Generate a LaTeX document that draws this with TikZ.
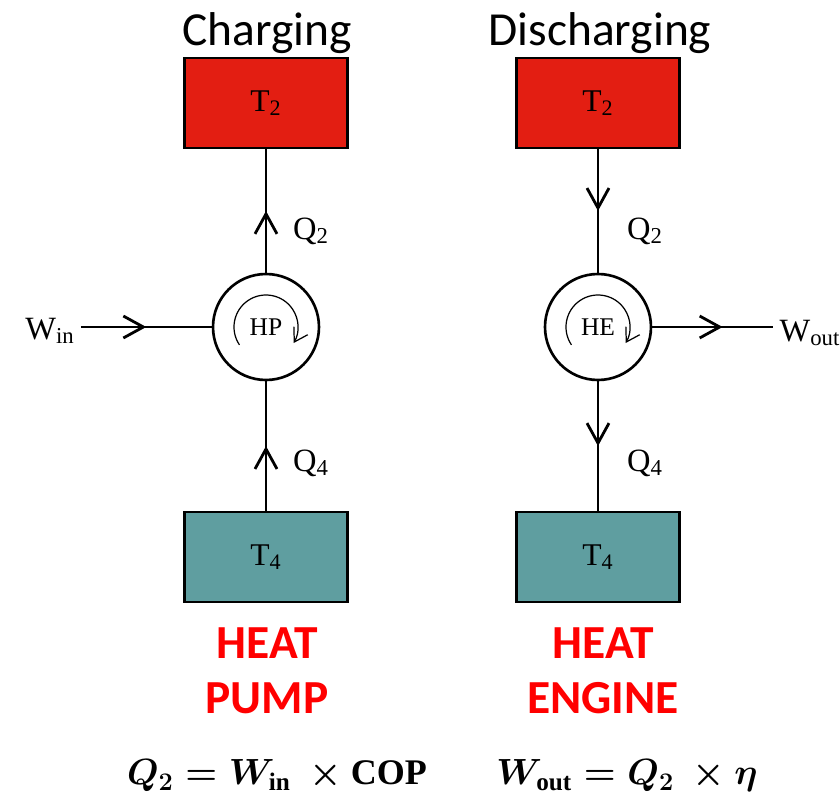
\documentclass[tikz,border=0pt]{standalone}
\usepackage{fontspec}
\setmainfont{Liberation Serif}
\newfontfamily\calibri{Carlito}
\usepackage{amsmath}
\usetikzlibrary{arrows.meta, decorations.markings}

\definecolor{hotred}{RGB}{227,30,18}
\definecolor{coldteal}{RGB}{95,158,160}

\tikzset{
  reservoir/.style={draw=black, line width=1.4pt, minimum width=3.26cm, minimum height=1.8cm, font=\fontsize{18}{21}\selectfont},
  machine/.style={circle, draw, line width=1.5pt, minimum size=2.12cm, inner sep=0pt, font=\fontsize{14.5}{17}\selectfont},
  flow/.style={line width=1.6pt, decoration={markings, mark=at position #1 with {\arrow{Straight Barb[length=4mm, width=4.4mm, line width=1.6pt]}}}, postaction={decorate}},
  flow/.default=0.5,
  title/.style={font=\calibri\fontsize{27}{32}\selectfont, anchor=base},
  kind/.style={font=\calibri\bfseries\fontsize{27}{31}\selectfont, text=red, align=center},
  lbl/.style={font=\fontsize{18.5}{21}\selectfont},
  eqn/.style={font=\fontsize{20.5}{24}\selectfont},
  cycle arrow/.style={line width=0.7pt, -{Straight Barb[length=2.6mm, width=3.2mm]}}
}

\begin{document}
\begin{tikzpicture}[x=0.02cm, y=-0.02cm]
    \useasboundingbox (0,0) rectangle (840,795);

    % charging: heat pump
    \node[title] (chg) at (267,45) {Charging};
    \node[reservoir, fill=hotred] (hotL) at (266,103) {T\textsubscript{2}};
    \node[machine] (hp) at (266,327) {HP};
    \node[reservoir, fill=coldteal] (coldL) at (266,557) {T\textsubscript{4}};
    \node[lbl] (win) at (50,331) {W\textsubscript{in}};
    \node[lbl] (q2L) at (311,231) {Q\textsubscript{2}};
    \node[lbl] (q4L) at (311,463) {Q\textsubscript{4}};

    \draw[flow] (coldL) -- (hp);
    \draw[flow] (hp) -- (hotL);
    \draw[flow] (win.east |- hp) -- (hp);
    \draw[cycle arrow] (hp.center) ++(146:32) arc[start angle=146, end angle=390, radius=32];

    \node[kind] (pumpname) at (267,671) {HEAT\\PUMP};
    \node[eqn] (eqL) at (277,776) {$\boldsymbol{Q_2 = W_{\mathrm{in}}\ \times \mathrm{COP}}$};

    % discharging: heat engine
    \node[title] (dis) at (600,45) {Discharging};
    \node[reservoir, fill=hotred] (hotR) at (598,103) {T\textsubscript{2}};
    \node[machine] (he) at (598,327) {HE};
    \node[reservoir, fill=coldteal] (coldR) at (598,557) {T\textsubscript{4}};
    \node[lbl] (wout) at (810,333) {W\textsubscript{out}};
    \node[lbl] (q2R) at (645,231) {Q\textsubscript{2}};
    \node[lbl] (q4R) at (645,463) {Q\textsubscript{4}};

    \draw[flow] (hotR) -- (he);
    \draw[flow] (he) -- (coldR);
    \draw[flow=0.58] (he) -- (wout.west |- he);
    \draw[cycle arrow] (he.center) ++(146:32) arc[start angle=146, end angle=390, radius=32];

    \node[kind] (enginename) at (603,671) {HEAT\\ENGINE};
    \node[eqn] (eqR) at (627,776) {$\boldsymbol{W_{\mathrm{out}} = Q_2\ \times \eta}$};
\end{tikzpicture}
\end{document}
